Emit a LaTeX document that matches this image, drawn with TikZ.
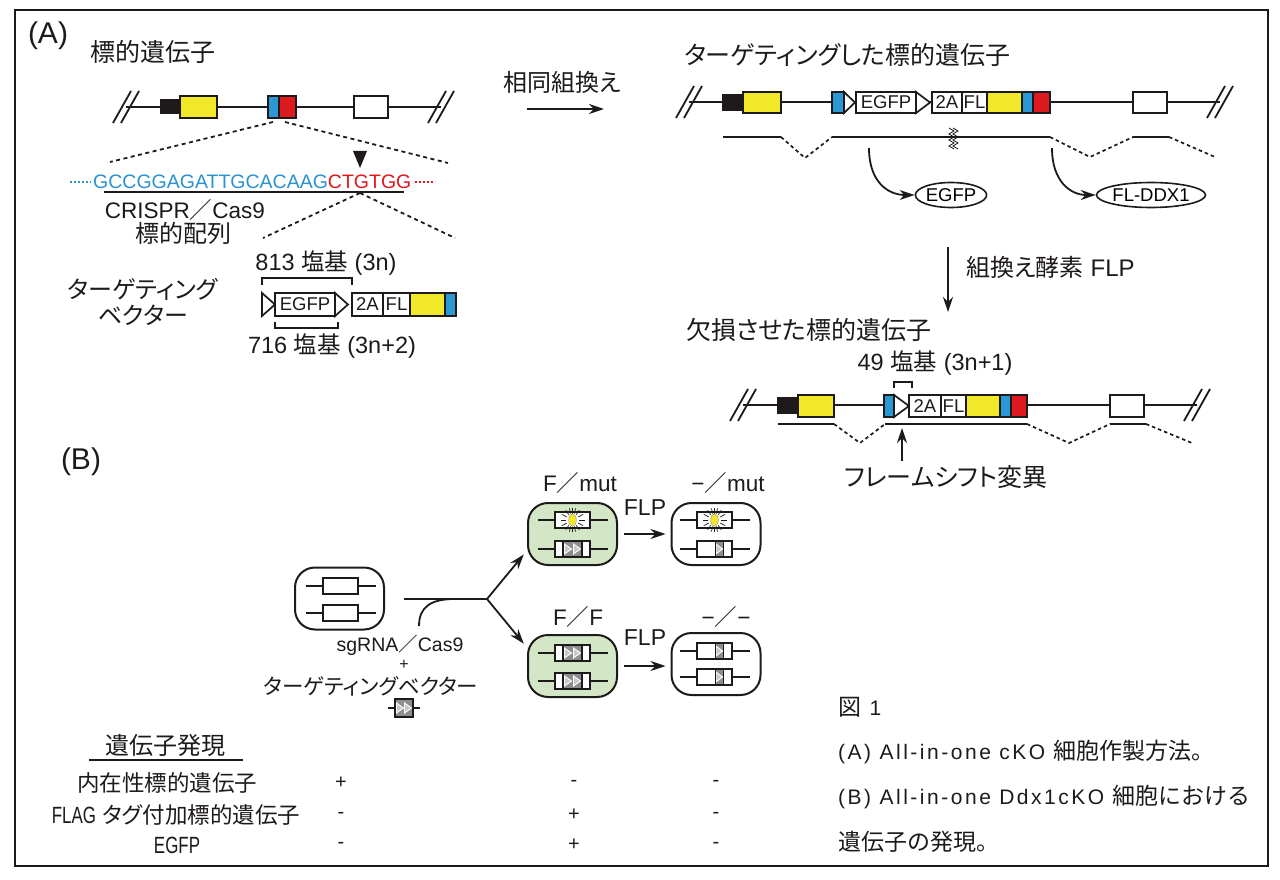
\documentclass[tikz,border=0pt]{standalone}
\usepackage{fontspec}
\setmainfont{Liberation Sans}
\newfontfamily\jp{Noto Sans CJK JP}[RawFeature={+palt}]
\newfontfamily\jpf{Noto Sans CJK JP}
\newfontfamily\lsp{Liberation Sans}[LetterSpace=12]
\usetikzlibrary{arrows.meta,shapes.geometric,calc}
\definecolor{gyellow}{HTML}{F2E82A}
\definecolor{gblue}{HTML}{2B98D4}
\definecolor{gred}{HTML}{DE1A21}
\definecolor{seqblue}{HTML}{2A93D0}
\definecolor{seqred}{HTML}{E0161D}
\definecolor{cellgreen}{HTML}{D3E7C6}
\definecolor{vgray}{HTML}{8E8E8E}
\definecolor{tgray}{HTML}{C9C9C9}
\definecolor{ink}{HTML}{1E1A1B}

\newcommand\fsz[1]{\fontsize{#1}{#1}\selectfont}
\newcommand\narrowtxt[1]{\scalebox{0.72}[1]{#1}}

\tikzset{
  gl/.style={line width=1.8pt, draw=ink},
  bx/.style={draw=ink, line width=1.7pt},
  trd/.style={draw=ink, line width=1.7pt, dash pattern=on 3.5pt off 3pt},
  zoomd/.style={draw=ink, line width=1.8pt, dash pattern=on 4pt off 3.5pt},
  arr/.style={draw=ink, line width=1.8pt, -{Stealth[length=15pt,width=10pt]}},
  cellbox/.style={draw=ink, line width=2pt, rounded corners=20pt, minimum width=89pt, minimum height=62pt, inner sep=0pt},
  txt/.style={inner sep=0pt, text=ink},
  boxlab/.style={inner sep=0pt, font=\fsz{18.5}, text=ink},
  brk/.style={draw=ink, line width=1.2pt},
}

\newcommand\gdslash[2]{%
  \draw[gl] ({#1-13},{#2+16}) -- ({#1+5},{#2-16});
  \draw[gl] ({#1-5},{#2+16}) -- ({#1+13},{#2-16});}
\newcommand\gbox[5]{\draw[bx, fill=#5] (#1,#3) rectangle (#2,#4);}
\newcommand\glox[4]{\draw[bx, fill=white, line join=miter] (#1,#3) -- (#2,{(#3+#4)/2}) -- (#1,#4) -- cycle;}
\newcommand\glbox[6]{\draw[bx, fill=white] (#1,#3) rectangle (#2,#4);
  \node[boxlab] (#6) at ({(#1+#2)/2},{(#3+#4)/2}) {#5};}
\newcommand\gburst[2]{%
  \foreach \a in {0,28,55,75,90,105,125,152,180,208,235,255,270,285,305,332}
    \draw[ink, line width=0.7pt] (#1,#2) ++(\a:6.5) -- ++(\a:5.5);
  \fill[gyellow, draw=ink!50, line width=0.4pt] (#1,#2) ellipse [x radius=3.8pt, y radius=6.3pt];}
\newcommand\gchr[2]{\draw[gl] ({#1-35},#2) -- ({#1+35},#2);
  \draw[bx, fill=white] ({#1-17.5},{#2-8}) rectangle ({#1+17.5},{#2+8});}
\newcommand\gtri[3]{\draw[white, line width=0.9pt, fill=tgray] (#1,{#2-5}) -- ({#1+#3},#2) -- (#1,{#2+5}) -- cycle;}
\newcommand\gchrstar[2]{\gchr{#1}{#2}\gburst{#1}{#2}}
\newcommand\gchrfull[2]{\gchr{#1}{#2}%
  \fill[vgray] ({#1-9.5},{#2-8}) rectangle ({#1+9.5},{#2+8});
  \gtri{#1-8}{#2}{7}\gtri{#1+1}{#2}{7}
  \draw[bx] ({#1-17.5},{#2-8}) rectangle ({#1+17.5},{#2+8});
  \draw[bx] ({#1-9.5},{#2-8}) -- ({#1-9.5},{#2+8}) ({#1+9.5},{#2-8}) -- ({#1+9.5},{#2+8});}
\newcommand\gchrdel[2]{\gchr{#1}{#2}%
  \fill[vgray] ({#1+1},{#2-8}) rectangle ({#1+9},{#2+8});
  \gtri{#1+1.5}{#2}{6.5}
  \draw[bx] ({#1-17.5},{#2-8}) rectangle ({#1+17.5},{#2+8});
  \draw[bx] ({#1+1},{#2-8}) -- ({#1+1},{#2+8}) ({#1+9},{#2-8}) -- ({#1+9},{#2+8});}

\begin{document}
\begin{tikzpicture}[x=1pt,y=-1pt]
\fill[white] (0,0) rectangle (1280,880);
\useasboundingbox (0,0) rectangle (1280,880);
\draw[ink, line width=2.8pt] (15,10) rectangle (1268,866);

% ---------------- (A) ----------------
\node[txt, font=\fsz{30}] (labA) at (48,36) {(A)};
\node[txt, font=\jp\fsz{25}, anchor=west] (h1) at (90,52) {標的遺伝子};

% wild-type gene
\draw[gl] (126,107) -- (441,107);
\gdslash{126}{107}\gdslash{441}{107}
\gbox{161}{180}{100}{113}{ink}
\gbox{180}{217}{96}{118}{gyellow}
\gbox{268}{279}{96}{118}{gblue}
\gbox{279}{296}{96}{118}{gred}
\gbox{354}{388}{96}{118}{white}

\draw[zoomd] (273,122) -- (110,162);
\draw[zoomd] (285,122) -- (448,163);
\fill[ink] (353,151) -- (367,151) -- (360,168) -- cycle;

% sequence
\draw[seqblue, line width=1.6pt, dash pattern=on 1.6pt off 2.4pt] (70,182) -- (91,182);
\node[txt, font=\fsz{19.5}, anchor=base west] (seq) at (93,188) {\textcolor{seqblue}{GCCGGAGATTGCACAAG}\textcolor{seqred}{CTGTGG}};
\draw[seqred, line width=1.6pt, dash pattern=on 1.6pt off 2.4pt] (415,182) -- (435,182);
\draw[ink, line width=1.1pt] (104,192) -- (404,192);

\draw[zoomd] (360,193) -- (263,238);
\draw[zoomd] (360,193) -- (455,238);

\node[txt, font=\fsz{22.5}] (crispr) at (185,210) {CRISPR{\jpf ／}Cas9};
\node[txt, font=\jp\fsz{24}] (tseq) at (183,233) {標的配列};

\node[txt, font=\fsz{23.5}] (b813) at (326,263) {813 {\jp 塩基} (3n)};
\draw[brk] (262,285) -- (262,278) -- (352,278) -- (352,285);

\node[txt, font=\jp\fontsize{24}{26}\selectfont, align=center] (tvlab) at (143,302) {ターゲティング\\ベクター};

% targeting vector
\glox{262}{275}{293}{316}
\glbox{275}{335}{293}{316}{EGFP}{vegfp}
\glox{335}{348}{293}{316}
\glbox{352}{383}{293}{316}{2A}{vtwoa}
\glbox{383}{410}{293}{316}{FL}{vfl}
\gbox{410}{445}{293}{316}{gyellow}
\gbox{445}{456}{293}{316}{gblue}
\draw[brk] (275,322) -- (275,328) -- (338,328) -- (338,322);
\node[txt, font=\fsz{23.5}] (b716) at (332,346) {716 {\jp 塩基} (3n+2)};

% homologous recombination arrow
\node[txt, font=\jp\fsz{24}] (hr) at (562,82) {相同組換え};
\coordinate (hra) at (527,109);
\coordinate (hrb) at (604,109);
\draw[arr] (hra) -- (hrb);

% targeted gene
\node[txt, font=\jp\fsz{25}, anchor=west] (h2) at (684,55) {ターゲティングした標的遺伝子};
\draw[gl] (689,102) -- (1220,102);
\gdslash{689}{102}\gdslash{1220}{102}
\gbox{723}{743}{95}{110}{ink}
\gbox{743}{781}{92}{113}{gyellow}
\gbox{832}{844}{92}{113}{gblue}
\glox{844}{855}{92}{113}
\glbox{856}{916}{92}{113}{EGFP}{tegfp}
\glox{916}{930}{92}{113}
\glbox{932}{962}{92}{113}{2A}{ttwoa}
\glbox{962}{987}{92}{113}{FL}{tfl}
\gbox{987}{1022}{92}{113}{gyellow}
\gbox{1022}{1033}{92}{113}{gblue}
\gbox{1033}{1050}{92}{113}{gred}
\gbox{1133}{1167}{92}{113}{white}

\draw[gl] (723,137) -- (781,137);
\draw[trd] (781,137) -- (805,158) -- (832,137);
\draw[gl] (832,137) -- (1050,137);
\draw[trd] (1050,137) -- (1090,157) -- (1133,137);
\draw[gl] (1133,137) -- (1169,137);
\draw[trd] (1169,137) -- (1215,157);
\draw[ink, line width=0.8pt] (949,128) -- (954,131) -- (949,134) -- (954,137) -- (949,140) -- (954,143) -- (949,146) -- (954,149);
\draw[ink, line width=0.8pt] (953,128) -- (958,131) -- (953,134) -- (958,137) -- (953,140) -- (958,143) -- (953,146) -- (958,149);

\node[draw=ink, ellipse, line width=1.6pt, minimum width=63pt, minimum height=25pt, inner sep=0pt, font=\fsz{18.5}] (pegfp) at (951,195) {EGFP};
\node[draw=ink, ellipse, line width=1.6pt, minimum width=104pt, minimum height=25pt, inner sep=0pt, font=\fsz{18.5}] (pfl) at (1151,195) {FL-DDX1};
\coordinate (cu1) at (869,148);
\coordinate (cu2) at (1052,148);
\draw[arr] (cu1) .. controls (869,182) and (888,195) .. (pegfp.west);
\draw[arr] (cu2) .. controls (1052,182) and (1071,195) .. (pfl.west);

% FLP recombinase
\coordinate (fa) at (948,247);
\coordinate (fb) at (948,312);
\draw[arr] (fa) -- (fb);
\node[txt, font=\fsz{24}, anchor=west] (flplab) at (966,267) {{\jp 組換え酵素} FLP};

% deleted gene
\node[txt, font=\jp\fsz{25}, anchor=west] (h3) at (686,330) {欠損させた標的遺伝子};
\node[txt, font=\fsz{23.5}] (b49) at (935,363) {49 {\jp 塩基} (3n+1)};
\draw[brk] (894,388) -- (894,382) -- (912,382) -- (912,388);
\draw[gl] (743,405) -- (1197,405);
\gdslash{743}{405}\gdslash{1197}{405}
\gbox{778}{798}{398}{413}{ink}
\gbox{798}{834}{395}{417}{gyellow}
\gbox{884}{894}{395}{417}{gblue}
\glox{894}{909}{395}{417}
\glbox{909}{941}{395}{417}{2A}{dtwoa}
\glbox{941}{966}{395}{417}{FL}{dfl}
\gbox{966}{1000}{395}{417}{gyellow}
\gbox{1000}{1011}{395}{417}{gblue}
\gbox{1011}{1027}{395}{417}{gred}
\gbox{1110}{1144}{395}{417}{white}

\draw[gl] (778,424) -- (834,424);
\draw[trd] (834,424) -- (860,443) -- (885,424);
\draw[gl] (885,424) -- (1027,424);
\draw[trd] (1027,424) -- (1069,443) -- (1110,424);
\draw[gl] (1110,424) -- (1146,424);
\draw[trd] (1146,424) -- (1192,443);

\node[txt, font=\jp\fsz{25}] (fshift) at (946,477) {フレームシフト変異};
\coordinate (fsa) at (902,461);
\coordinate (fsb) at (902,428);
\draw[arr] (fsa) -- (fsb);

% ---------------- (B) ----------------
\node[txt, font=\fsz{30}] (labB) at (81,462) {(B)};

\node[cellbox] (c0) at (339.5,598.5) {};
\gchr{340.5}{586}\gchr{340.5}{613}

\node[cellbox, fill=cellgreen] (g1) at (572.5,534) {};
\node[cellbox] (r1) at (716,534) {};
\node[cellbox, fill=cellgreen] (g2) at (572.5,666) {};
\node[cellbox] (r2) at (716,664) {};

\gchrstar{572.5}{520}\gchrfull{572.5}{549}
\gchrstar{714.5}{520}\gchrdel{714.5}{549}
\gchrfull{572.5}{653}\gchrfull{572.5}{681}
\gchrdel{714.5}{651}\gchrdel{714.5}{677}

\coordinate (bs) at (404,599);
\coordinate (br) at (487,599);
\coordinate (cv) at (419,626);
\draw[gl] (bs) -- (br);
\draw[gl] (cv) .. controls (419,606) and (432,599) .. (455,599);
\draw[arr, shorten >=5pt] (br) -- (g1.200);
\draw[arr, shorten >=5pt] (br) -- (g2.158);

\draw[arr] ([xshift=6pt]g1.east) -- ([xshift=-5pt]g1.east -| r1.west);
\draw[arr] ([xshift=6pt]g2.east) -- ([xshift=-5pt]g2.east -| r2.west);
\node[txt, font=\fsz{23}] (flp1) at (645,508) {FLP};
\node[txt, font=\fsz{23}] (flp2) at (645,638) {FLP};

\node[txt, font=\fsz{22.5}] (lfm) at (580,483) {F{\jpf ／}mut};
\node[txt, font=\fsz{22.5}] (lmm) at (728,483) {−{\jpf ／}mut};
\node[txt, font=\fsz{22.5}] (lff) at (578,617) {F{\jpf ／}F};
\node[txt, font=\fsz{22.5}] (lkk) at (726,617) {−{\jpf ／}−};

\node[txt, font=\fsz{19.5}] (sg) at (400,645) {sgRNA{\jpf ／}Cas9};
\node[txt, font=\fsz{16}] (plus) at (404,665) {+};
\node[txt, font=\jp\fsz{21.5}] (tvec) at (371,686) {ターゲティングベクター};
\draw[gl] (388,708) -- (420,708);
\fill[vgray] (395,699) rectangle (413,717);
\gtri{396.5}{708}{7}\gtri{404.5}{708}{7}
\draw[bx] (395,699) rectangle (413,717);

% table
\node[txt, font=\jpf\fsz{24}] (th) at (165,745) {遺伝子発現};
\draw[ink, line width=1.8pt] (89,760) -- (243,760);
\node[txt, font=\jpf\fsz{22.5}] (rl1) at (167,783) {内在性標的遺伝子};
\node[txt, font=\fsz{23.5}] (rl2) at (176,815) {\narrowtxt{FLAG} {\jp\fsz{22.5}タグ付加標的遺伝子}};
\node[txt, font=\fsz{23.5}] (rl3) at (177,845) {\narrowtxt{EGFP}};
\node[txt, font=\fsz{20}] (m11) at (341,783) {+};
\node[txt, font=\fsz{20}] (m12) at (574,783) {-};
\node[txt, font=\fsz{20}] (m13) at (716,783) {-};
\node[txt, font=\fsz{20}] (m21) at (341,815) {-};
\node[txt, font=\fsz{20}] (m22) at (574,815) {+};
\node[txt, font=\fsz{20}] (m23) at (716,815) {-};
\node[txt, font=\fsz{20}] (m31) at (341,845) {-};
\node[txt, font=\fsz{20}] (m32) at (574,845) {+};
\node[txt, font=\fsz{20}] (m33) at (716,845) {-};

% legend
\node[txt, font=\lsp\fsz{21}, anchor=west] (lg0) at (838,707) {{\jpf\fsz{23}図} 1};
\node[txt, font=\lsp\fsz{21}, anchor=west] (lg1) at (838,752) {(A) All-in-one cKO {\jpf\fsz{23}細胞作製方法。}};
\node[txt, font=\lsp\fsz{21}, anchor=west] (lg2) at (838,797) {(B) All-in-one Ddx1cKO {\jpf\fsz{23}細胞における}};
\node[txt, font=\jpf\fsz{23}, anchor=west] (lg3) at (838,842) {遺伝子の発現。};
\end{tikzpicture}
\end{document}
